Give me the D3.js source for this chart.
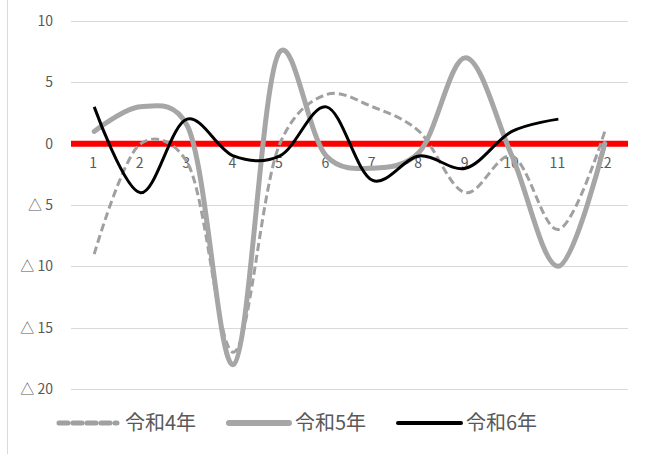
<!DOCTYPE html>
<html lang="ja">
<head>
<meta charset="UTF-8">
<title>令和4年〜6年</title>
<script src="https://d3js.org/d3.v7.min.js"></script>
<style>
  body { margin: 0; background: #fff; }
  text { font-family: "Noto Sans CJK JP", "Noto Sans", sans-serif; fill: #595959; }
  .grid line { stroke: #d9d9d9; stroke-width: 1px; }
</style>
</head>
<body>
<script>

// months on the category axis
var months = [1, 2, 3, 4, 5, 6, 7, 8, 9, 10, 11, 12];

// values
var r4 = [-9, 0, -1.5, -17, 0, 4, 3, 1, -4, -1, -7, 1];
var r5 = [1, 3, 1.5, -18, 7.5, -1, -2, -0.7, 7, -1, -10, 0];
var r6 = [3, -4, 2, -1, -1, 3, -3, -1, -2, 1, 2];

var yTicks = [10, 5, 0, -5, -10, -15, -20];
var seriesNames = ["令和4年", "令和5年", "令和6年"];

var width = 648, height = 454;

var svg = d3.select("body").append("svg")
    .attr("width", width)
    .attr("height", height);

// chart border on the left
svg.append("line")
    .attr("x1", 7.5).attr("x2", 7.5)
    .attr("y1", 0).attr("y2", height)
    .attr("stroke", "#d9d9d9");

var x = d3.scaleBand()
    .domain(months)
    .range([71, 628]);

var y = d3.scaleLinear()
    .domain([-20, 10])
    .range([389, 21]);

function cx(i) { return x(months[i]) + x.bandwidth() / 2; }

// gridlines
svg.append("g")
    .attr("class", "grid")
    .selectAll("line")
    .data(yTicks)
    .enter().append("line")
    .attr("x1", 71).attr("x2", 628)
    .attr("y1", function(d) { return Math.round(y(d)) + 0.5; })
    .attr("y2", function(d) { return Math.round(y(d)) + 0.5; });

// y axis labels (negatives written with △)
var yAxis = d3.axisLeft(y)
    .tickValues(yTicks)
    .tickSize(0)
    .tickPadding(0)
    .tickFormat(function(d) { return d < 0 ? "△ " + (-d) : d; });

var gy = svg.append("g")
    .attr("transform", "translate(53,0)")
    .call(yAxis);
gy.select(".domain").remove();
gy.selectAll("text")
    .style("font-size", "14px")
    .style("fill", "#595959")
    .style("font-family", "'Noto Sans CJK JP', sans-serif");

// red zero line
svg.append("line")
    .attr("x1", 71).attr("x2", 628)
    .attr("y1", y(0)).attr("y2", y(0))
    .attr("stroke", "#ff0000")
    .attr("stroke-width", 6);

// x axis labels sitting under the zero line
var xAxis = d3.axisBottom(x).tickSize(0).tickPadding(14);
var gx = svg.append("g")
    .attr("transform", "translate(-1," + y(0) + ")")
    .call(xAxis);
gx.select(".domain").remove();
gx.selectAll("text")
    .style("font-size", "14px")
    .style("fill", "#595959")
    .style("font-family", "'Noto Sans CJK JP', sans-serif");

var line = d3.line()
    .x(function(d, i) { return cx(i); })
    .y(function(d) { return y(d); })
    .curve(d3.curveCatmullRom.alpha(0.25));

svg.append("path")
    .datum(r4)
    .attr("d", line)
    .attr("fill", "none")
    .attr("stroke", "#a0a0a0")
    .attr("stroke-width", 3)
    .attr("stroke-dasharray", "8,4");

svg.append("path")
    .datum(r5)
    .attr("d", line)
    .attr("fill", "none")
    .attr("stroke", "#a6a6a6")
    .attr("stroke-width", 5)
    .attr("stroke-linecap", "round");

svg.append("path")
    .datum(r6)
    .attr("d", line)
    .attr("fill", "none")
    .attr("stroke", "#000")
    .attr("stroke-width", 3);

// legend
var legendY = 423;
var legend = [
  {name: seriesNames[0], x1: 59, x2: 117, color: "#a0a0a0", w: 5, dash: "9,5", tx: 125},
  {name: seriesNames[1], x1: 229, x2: 289, color: "#a6a6a6", w: 6, dash: null, tx: 295},
  {name: seriesNames[2], x1: 398, x2: 461, color: "#000", w: 4, dash: null, tx: 466}
];

var lg = svg.append("g").selectAll("g")
    .data(legend)
    .enter().append("g");

lg.append("line")
    .attr("x1", function(d) { return d.x1; })
    .attr("x2", function(d) { return d.x2; })
    .attr("y1", legendY).attr("y2", legendY)
    .attr("stroke", function(d) { return d.color; })
    .attr("stroke-width", function(d) { return d.w; })
    .attr("stroke-linecap", "round")
    .attr("stroke-dasharray", function(d) { return d.dash; });

lg.append("text")
    .attr("x", function(d) { return d.tx; })
    .attr("y", legendY + 7)
    .style("font-size", "20px")
    .text(function(d) { return d.name; });

</script>
</body>
</html>
